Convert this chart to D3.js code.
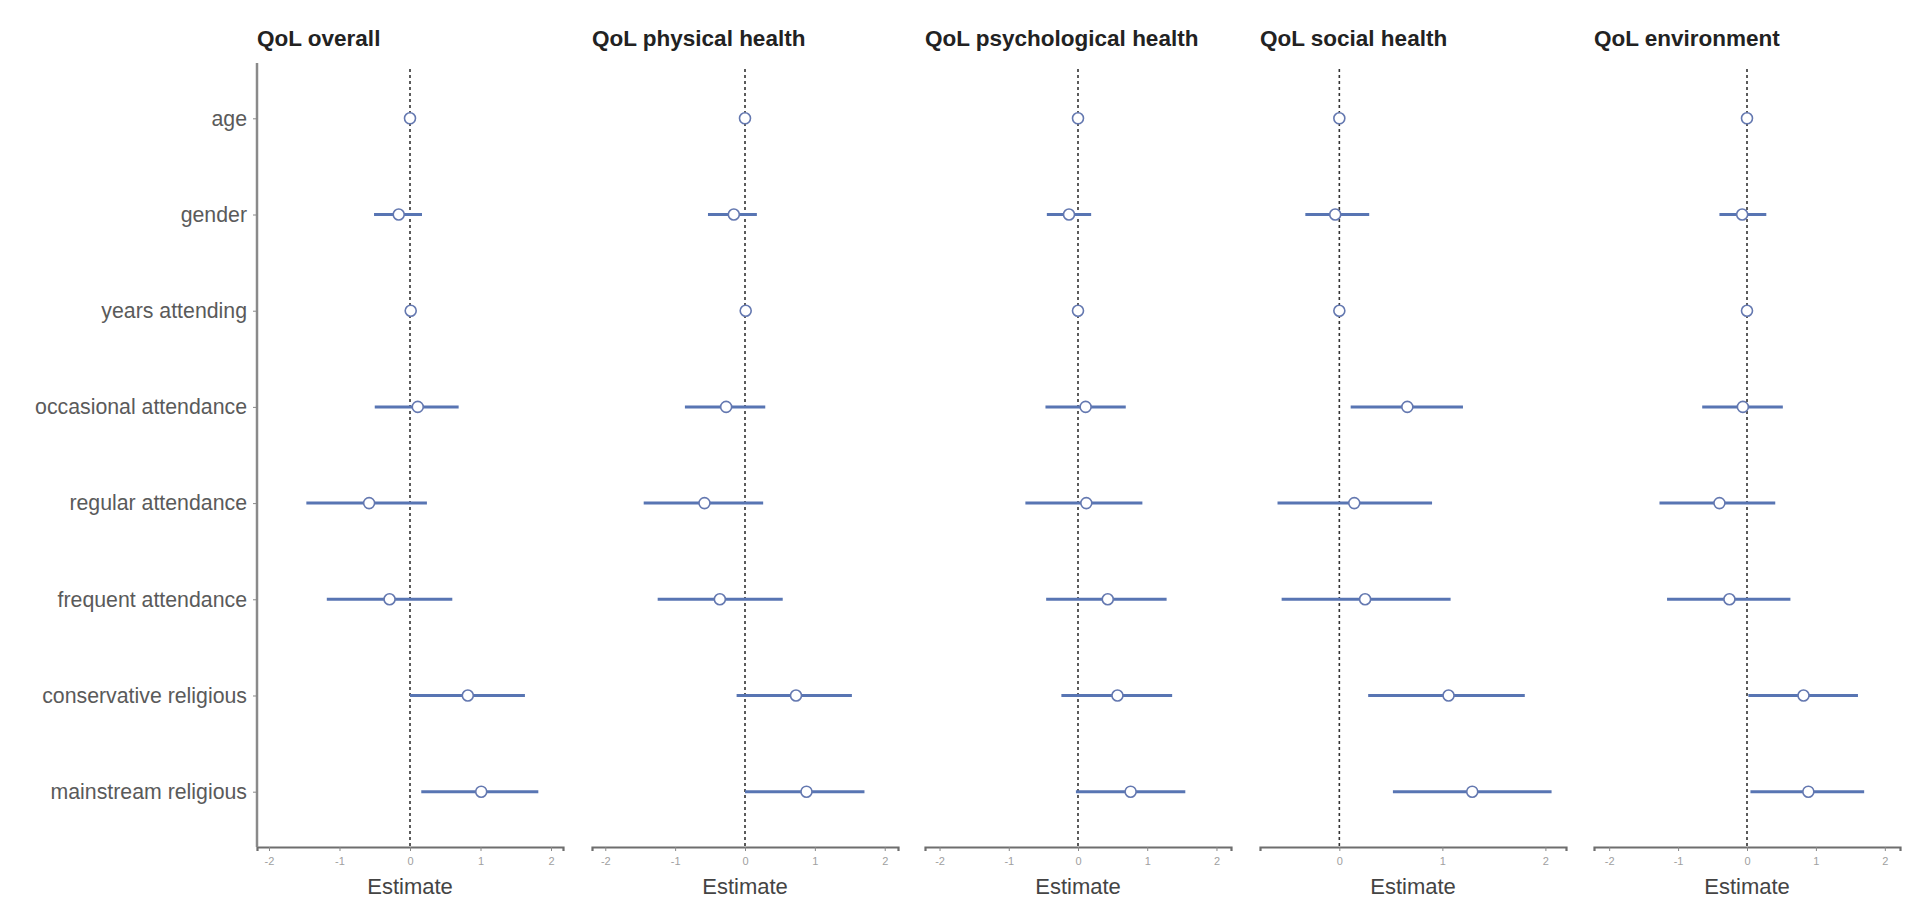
<!DOCTYPE html>
<html>
<head>
<meta charset="utf-8">
<script src="https://cdn.jsdelivr.net/npm/d3@7/dist/d3.min.js"></script>
<style>
  html, body { margin: 0; padding: 0; background: #fff; }
  svg { display: block; }
  text { font-family: "Liberation Sans", Arial, sans-serif; }
</style>
</head>
<body>
<svg id="chart" width="1913" height="915"></svg>
<script>
// ---------------- data ----------------
const categories = ["age", "gender", "years attending", "occasional attendance",
  "regular attendance", "frequent attendance", "conservative religious", "mainstream religious"];

const panelTitles = ["QoL overall", "QoL physical health", "QoL psychological health",
  "QoL social health", "QoL environment"];

const overallEst = [0.00, -0.16, 0.01, 0.11, -0.58, -0.29, 0.82, 1.01];
const overallLo  = [-0.02, -0.51, -0.01, -0.50, -1.47, -1.18, 0.00, 0.16];
const overallHi  = [0.02, 0.17, 0.03, 0.69, 0.24, 0.60, 1.63, 1.82];

const physicalEst = [0.00, -0.16, 0.01, -0.27, -0.58, -0.36, 0.73, 0.88];
const physicalLo  = [-0.02, -0.53, -0.01, -0.86, -1.45, -1.25, -0.12, 0.00];
const physicalHi  = [0.02, 0.17, 0.03, 0.29, 0.26, 0.54, 1.53, 1.71];

const psychEst = [0.00, -0.13, 0.00, 0.11, 0.12, 0.43, 0.57, 0.76];
const psychLo  = [-0.02, -0.45, -0.02, -0.47, -0.76, -0.46, -0.24, -0.03];
const psychHi  = [0.02, 0.19, 0.02, 0.69, 0.93, 1.28, 1.36, 1.55];

const socialEst = [0.00, -0.04, 0.00, 0.66, 0.145, 0.25, 1.06, 1.29];
const socialLo  = [-0.02, -0.33, -0.02, 0.11, -0.60, -0.56, 0.28, 0.52];
const socialHi  = [0.02, 0.29, 0.02, 1.20, 0.90, 1.08, 1.80, 2.06];

const envEst = [0.00, -0.07, 0.00, -0.06, -0.40, -0.255, 0.82, 0.89];
const envLo  = [-0.02, -0.40, -0.02, -0.65, -1.27, -1.16, 0.02, 0.05];
const envHi  = [0.02, 0.28, 0.02, 0.52, 0.41, 0.63, 1.61, 1.70];

const tickSets = [[-2, -1, 0, 1, 2], [-2, -1, 0, 1, 2], [-2, -1, 0, 1, 2], [0, 1, 2], [-2, -1, 0, 1, 2]];
const xDomains = [[-2.17, 2.17], [-2.19, 2.19], [-2.21, 2.21], [-0.77, 2.2], [-2.22, 2.22]];
const xLabel = "Estimate";

const series = [
  [overallEst, overallLo, overallHi],
  [physicalEst, physicalLo, physicalHi],
  [psychEst, psychLo, psychHi],
  [socialEst, socialLo, socialHi],
  [envEst, envLo, envHi]
];

// ---------------- layout ----------------
const svg = d3.select("#chart");
const plotTop = 63, plotBottom = 847;
const panelLefts = [257, 592, 925, 1260, 1594];
const panelWidth = 306;

const y = d3.scalePoint().domain(categories).range([plotTop, plotBottom]).padding(0.575);

const barColor = "#5875b3";
const ptStroke = "#6478b0";

series.forEach((s, p) => {
  const [est, lo, hi] = s;
  const left = panelLefts[p];
  const x = d3.scaleLinear().domain(xDomains[p]).range([left, left + panelWidth]);
  const g = svg.append("g");

  // title
  g.append("text")
    .attr("x", left)
    .attr("y", 46)
    .attr("font-size", 22.5)
    .attr("font-weight", "bold")
    .attr("fill", "#222")
    .text(panelTitles[p]);

  // x axis
  const xAxis = d3.axisBottom(x).tickValues(tickSets[p]).tickSize(4).tickPadding(6)
    .tickFormat(d => String(d));
  const ax = g.append("g").attr("transform", `translate(0,${plotBottom})`).call(xAxis);
  ax.select(".domain").attr("stroke", "#6e6e6e").attr("stroke-width", 2.2);
  ax.selectAll(".tick line").attr("stroke", "#888").attr("stroke-width", 1);
  ax.selectAll(".tick text").attr("fill", "#a0a0a0").attr("font-size", 11)
    .attr("font-family", "Liberation Sans, Arial, sans-serif");

  // x label
  g.append("text")
    .attr("x", left + panelWidth / 2)
    .attr("y", 894)
    .attr("text-anchor", "middle")
    .attr("font-size", 22)
    .attr("fill", "#444")
    .text(xLabel);

  // y axis only on first panel
  if (p === 0) {
    const yAxis = d3.axisLeft(y).tickSize(4).tickPadding(6);
    const ay = g.append("g").attr("transform", `translate(${left},0)`).call(yAxis);
    ay.select(".domain").attr("stroke", "#8a8a8a").attr("stroke-width", 2.5)
      .attr("d", `M0,${plotTop}V${plotBottom}`);
    ay.selectAll(".tick line").attr("stroke", "#888");
    ay.selectAll(".tick text").attr("fill", "#5a5a5a").attr("font-size", 21.3)
      .attr("font-family", "Liberation Sans, Arial, sans-serif");
  }

  // zero reference line
  g.append("line")
    .attr("x1", x(0)).attr("x2", x(0))
    .attr("y1", plotTop + 6).attr("y2", plotBottom)
    .attr("stroke", "#333")
    .attr("stroke-width", 1.6)
    .attr("stroke-dasharray", "3,3");

  // CI bars
  g.selectAll("line.ci").data(categories).enter().append("line")
    .attr("class", "ci")
    .attr("x1", (d, i) => x(lo[i]))
    .attr("x2", (d, i) => x(hi[i]))
    .attr("y1", d => y(d)).attr("y2", d => y(d))
    .attr("stroke", barColor)
    .attr("stroke-width", 3);

  // points
  g.selectAll("circle.pt").data(categories).enter().append("circle")
    .attr("class", "pt")
    .attr("cx", (d, i) => x(est[i]))
    .attr("cy", d => y(d))
    .attr("r", 5.5)
    .attr("fill", "#fff")
    .attr("stroke", ptStroke)
    .attr("stroke-width", 1.6);
});
</script>
</body>
</html>
